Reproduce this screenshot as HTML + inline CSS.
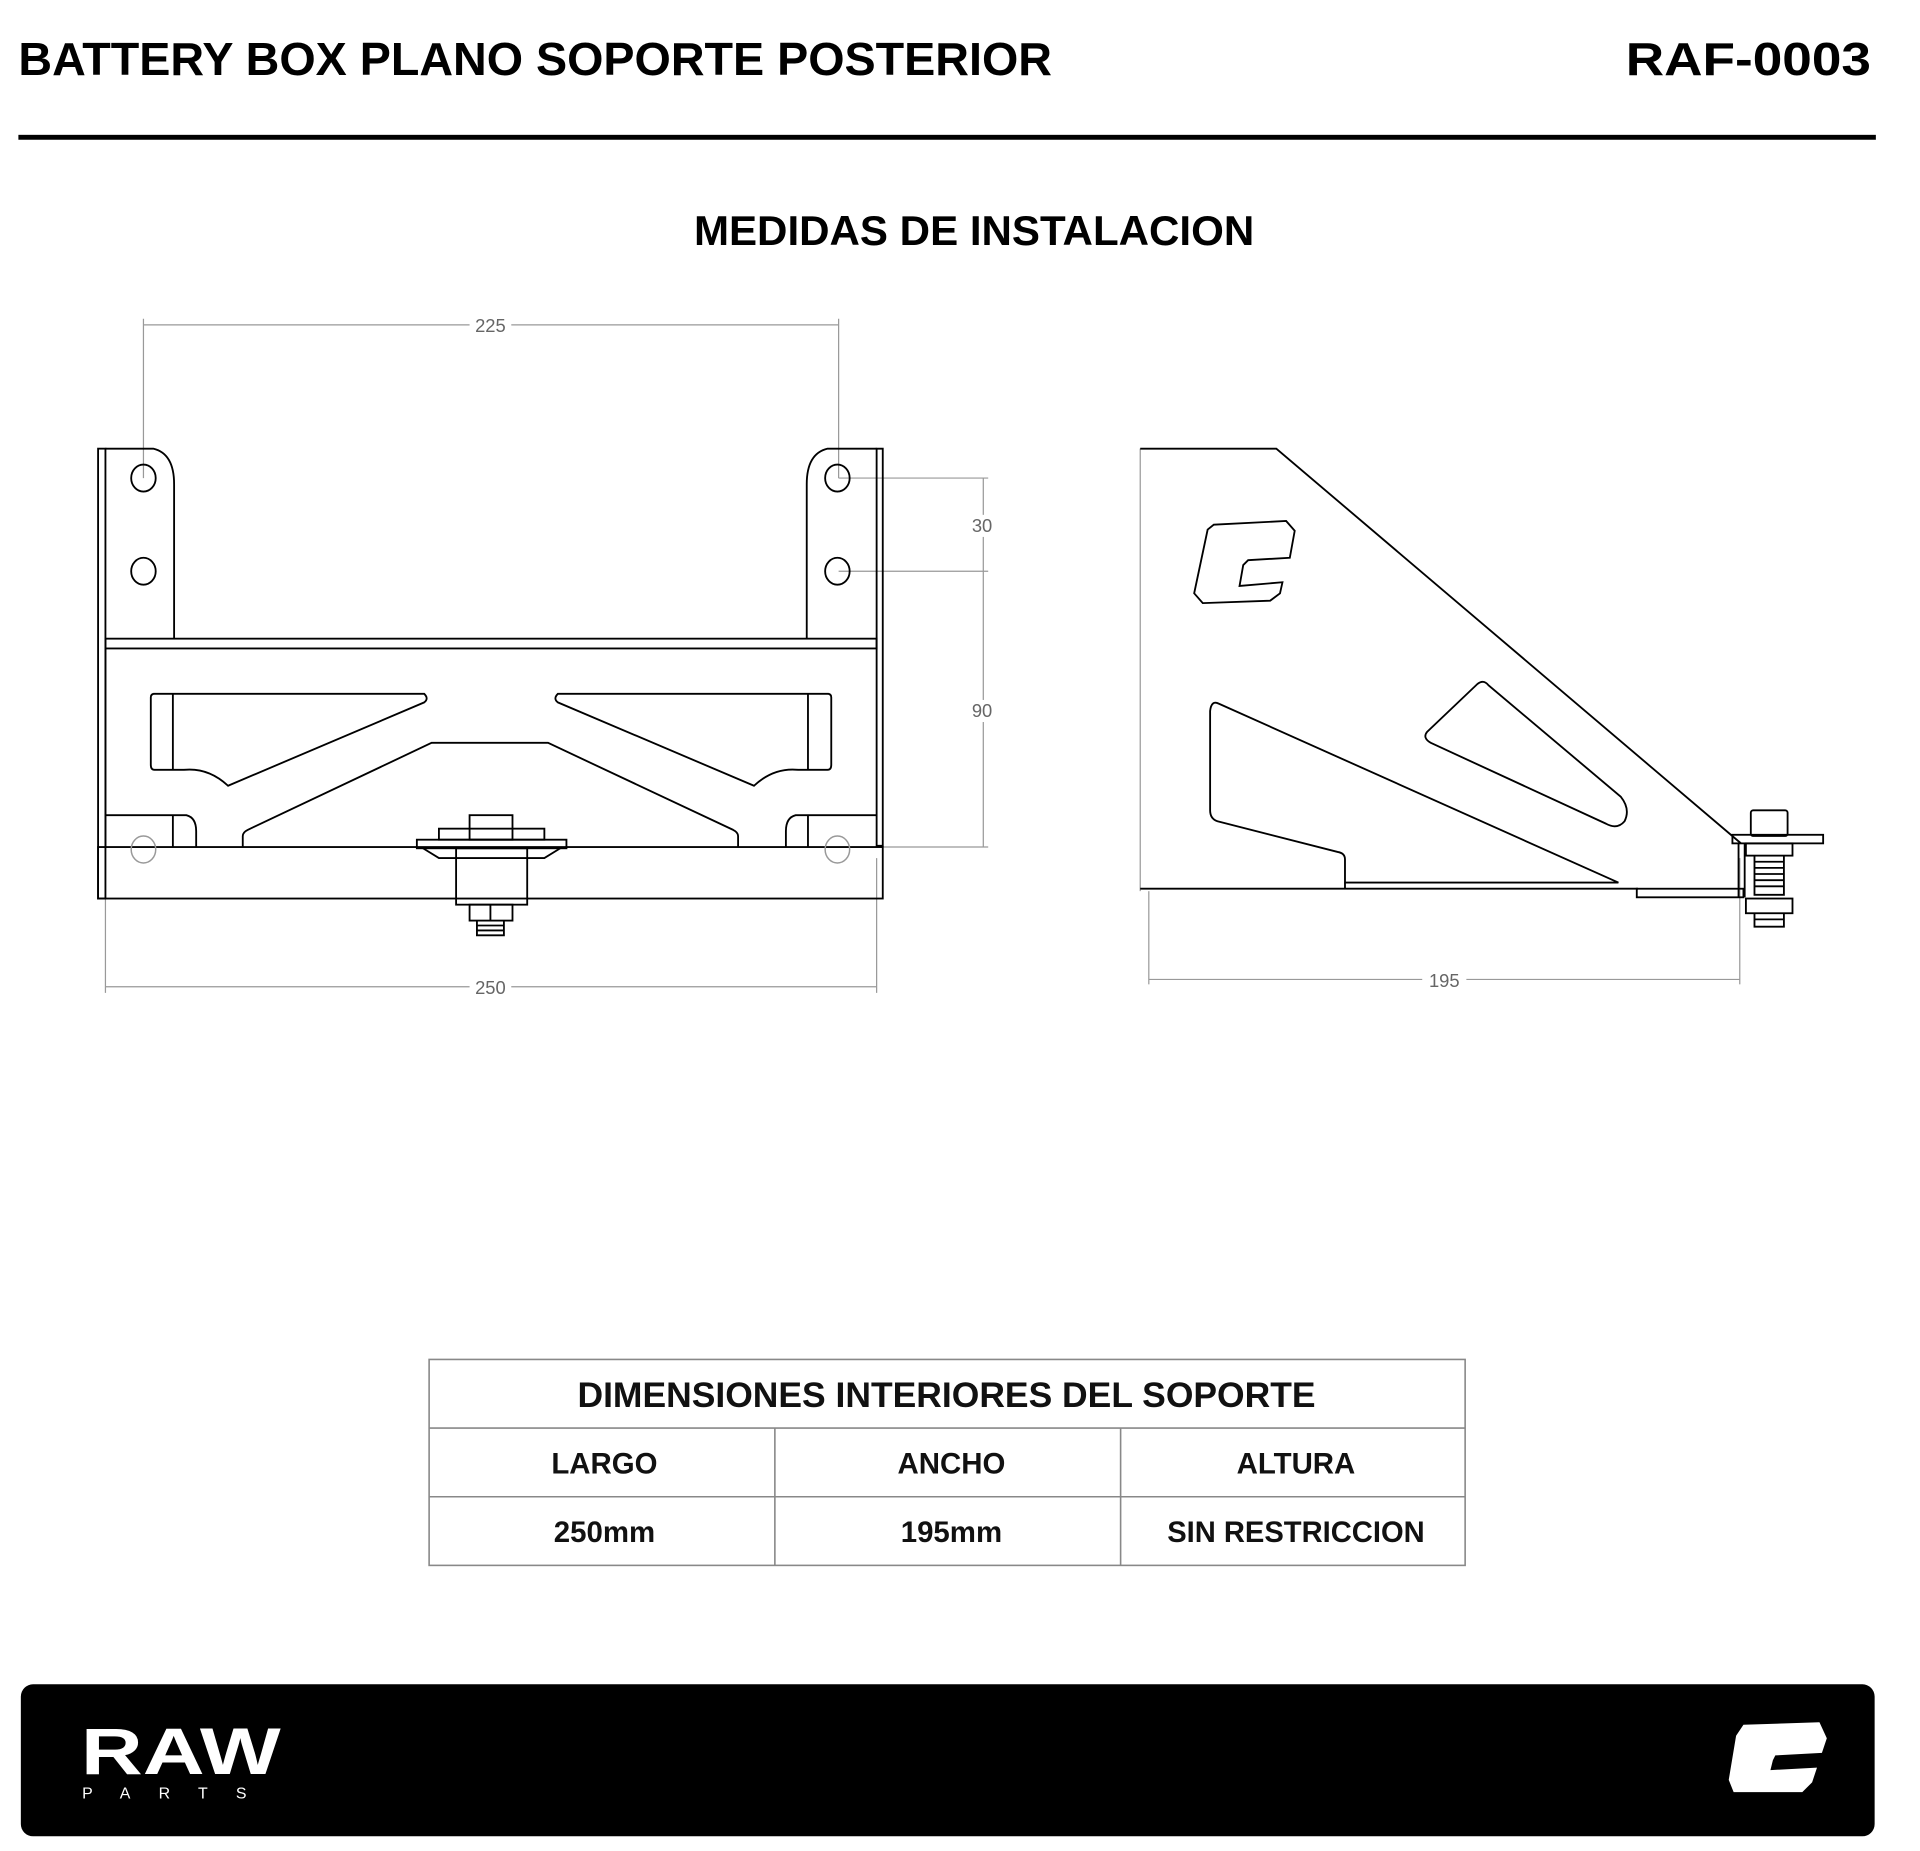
<!DOCTYPE html>
<html><head><meta charset="utf-8"><style>html,body{margin:0;padding:0;background:#fff}svg{display:block}</style></head>
<body>
<svg width="1920" height="1851" viewBox="0 0 1566 1510" preserveAspectRatio="none" xmlns="http://www.w3.org/2000/svg" font-family="Liberation Sans, sans-serif">
<rect width="1566" height="1510" fill="#fff"/>
<text x="15" y="61" font-size="38" font-weight="bold" textLength="843" lengthAdjust="spacingAndGlyphs">BATTERY BOX PLANO SOPORTE POSTERIOR</text>
<text x="1326" y="61" font-size="38" font-weight="bold" textLength="200" lengthAdjust="spacingAndGlyphs">RAF-0003</text>
<rect x="15" y="110" width="1515" height="4" fill="#000"/>
<text x="566" y="200" font-size="34" font-weight="bold" textLength="457" lengthAdjust="spacingAndGlyphs">MEDIDAS DE INSTALACION</text>

<g fill="none" stroke="#999" stroke-width="1">
<line x1="117" y1="265" x2="684" y2="265"/><line x1="117" y1="260" x2="117" y2="390"/><line x1="684" y1="260" x2="684" y2="390"/>
<line x1="86" y1="805" x2="715" y2="805"/><line x1="86" y1="700" x2="86" y2="810"/><line x1="715" y1="700" x2="715" y2="810"/>
<line x1="802" y1="390" x2="802" y2="691"/><line x1="684" y1="390" x2="806" y2="390"/><line x1="684" y1="466" x2="806" y2="466"/><line x1="684" y1="691" x2="806" y2="691"/>
<line x1="937" y1="799" x2="1419" y2="799"/><line x1="937" y1="727" x2="937" y2="803"/><line x1="1419" y1="700" x2="1419" y2="803"/>
<line x1="930" y1="366" x2="930" y2="727"/>
</g>
<g font-size="15" fill="#666" text-anchor="middle">
<rect x="383" y="256" width="34" height="18" fill="#fff"/><text x="400" y="271">225</text>
<rect x="383" y="796" width="34" height="18" fill="#fff"/><text x="400" y="811">250</text>
<rect x="788" y="420" width="28" height="18" fill="#fff"/><text x="801" y="434">30</text>
<rect x="788" y="571" width="28" height="18" fill="#fff"/><text x="801" y="585">90</text>
<rect x="1160" y="790" width="36" height="18" fill="#fff"/><text x="1178" y="805">195</text>
</g>

<g fill="none" stroke="#000" stroke-width="1.5">
<rect x="80" y="366" width="6" height="367"/>
<path d="M86 366 H125 Q142 370 142 395 V521"/>
<path d="M720 366 H715 V690 H720 Z"/>
<path d="M715 366 H675 Q658 370 658 395 V521"/>
<rect x="86" y="521" width="629" height="8"/>
<rect x="80" y="691" width="640" height="42"/>
<line x1="86" y1="529" x2="86" y2="691"/>
<path d="M125 566 H346 Q350 570 346 573 L186 641 Q170 626 150 628 H126 Q123 628 123 624 V569 Q123 566 126 566 Z"/>
<line x1="141" y1="566" x2="141" y2="628"/>
<path d="M676 566 H455 Q451 570 455 573 L615 641 Q631 626 651 628 H675 Q678 628 678 624 V569 Q678 566 675 566 Z"/>
<line x1="659" y1="566" x2="659" y2="628"/>
<path d="M198 691 V682 Q198 679 202 677 L352 606 H447 L598 677 Q602 679 602 682 V691"/>
<path d="M86 665 H152 Q160 667 160 678 V691"/><line x1="141" y1="665" x2="141" y2="691"/>
<path d="M715 665 H649 Q641 667 641 678 V691"/><line x1="659" y1="665" x2="659" y2="691"/>
<path d="M345 692 L358 700 H444 L457 692"/>
<rect x="340" y="685" width="122" height="7"/>
<rect x="358" y="676" width="86" height="9"/>
<rect x="383" y="665" width="35" height="20"/>
<rect x="372" y="692" width="58" height="46"/>
<rect x="383" y="738" width="35" height="13"/><line x1="400" y1="738" x2="400" y2="751"/>
<path d="M389 751 V763 H411 V751 M389 755 H411 M389 759 H411"/>
<ellipse cx="117" cy="390" rx="10" ry="11"/><ellipse cx="117" cy="466" rx="10" ry="11"/>
<ellipse cx="683" cy="390" rx="10" ry="11"/><ellipse cx="683" cy="466" rx="10" ry="11"/>
</g>
<g fill="none" stroke="#999" stroke-width="1.2">
<ellipse cx="117" cy="693" rx="10" ry="11"/><ellipse cx="683" cy="693" rx="10" ry="11"/>
</g>

<g fill="none" stroke="#000" stroke-width="1.5">
<path d="M930 366 H1041 L1420 688"/>
<line x1="930" y1="725" x2="1336" y2="725"/>
<rect x="1335" y="725" width="87" height="7"/>
<path d="M1418 688 V732 M1423 688 V732"/>
<rect x="1413" y="681" width="74" height="7"/>
<path d="M994 574 L1320 720 H1097 V701 Q1097 696 1091 695 L993 670 Q987 668 987 661 V580 Q988 571 994 574 Z"/>
<line x1="1097" y1="725" x2="1097" y2="720"/>
<path d="M1205 558 Q1210 554 1214 559 L1322 650 Q1330 660 1325 670 Q1319 677 1310 672 L1167 606 Q1160 602 1164 597 Z"/>
<path d="M985 432 L990 428 L1049 425 L1056 433 L1052 455 L1018 457 L1014 461 L1011 478 L1046 475 L1044 484 L1036 490 L981 492 L974 484 Z"/>
<rect x="1428" y="661" width="30" height="21" rx="2"/>
<rect x="1424" y="688" width="38" height="10"/>
<path d="M1431 698 V730 H1455 V698 M1431 703 H1455 M1431 708 H1455 M1431 713 H1455 M1431 718 H1455 M1431 723 H1455"/>
<rect x="1424" y="733" width="38" height="12"/>
<path d="M1431 745 V756 H1455 V745 M1431 750 H1455"/>
</g>

<g fill="none" stroke="#888" stroke-width="1.3">
<rect x="350" y="1109" width="845" height="168"/>
<line x1="350" y1="1165" x2="1195" y2="1165"/><line x1="350" y1="1221" x2="1195" y2="1221"/>
<line x1="632" y1="1165" x2="632" y2="1277"/><line x1="914" y1="1165" x2="914" y2="1277"/>
</g>
<g font-weight="bold" text-anchor="middle" fill="#111">
<text x="772" y="1148" font-size="29" textLength="602" lengthAdjust="spacingAndGlyphs">DIMENSIONES INTERIORES DEL SOPORTE</text>
<text x="493" y="1202" font-size="24">LARGO</text>
<text x="776" y="1202" font-size="24">ANCHO</text>
<text x="1057" y="1202" font-size="24">ALTURA</text>
<text x="493" y="1258" font-size="24">250mm</text>
<text x="776" y="1258" font-size="24">195mm</text>
<text x="1057" y="1258" font-size="24" textLength="210" lengthAdjust="spacingAndGlyphs">SIN RESTRICCION</text>
</g>

<rect x="17" y="1374" width="1512" height="124" rx="10" fill="#000"/>
<text x="66" y="1447" font-size="54" font-weight="bold" fill="#fff" textLength="163" lengthAdjust="spacingAndGlyphs">RAW</text>
<text x="67" y="1467" font-size="13" fill="#fff" letter-spacing="23">PARTS</text>
<path d="M1422 1407 L1484 1405 L1490 1418 L1486 1430 L1448 1432 L1446 1436 L1444 1444 L1482 1442 L1478 1454 L1470 1462 L1414 1462 L1410 1452 L1416 1416 Z" fill="#fff"/>
</svg>
</body></html>
